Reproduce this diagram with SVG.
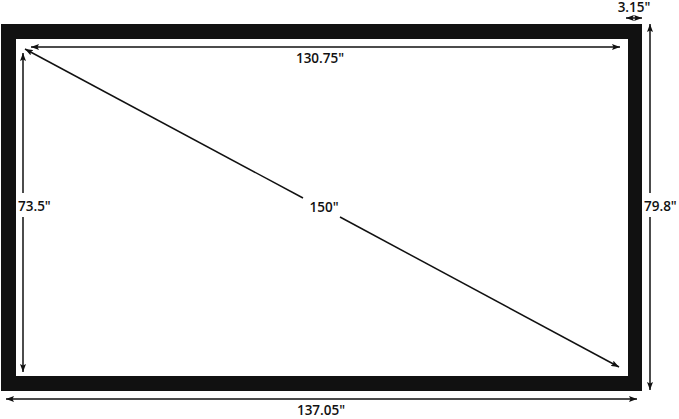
<svg xmlns="http://www.w3.org/2000/svg" width="679" height="419" viewBox="0 0 679 419">
<defs>
<marker id="ah" viewBox="0 0 8 6" refX="8" refY="3" markerWidth="8" markerHeight="6" markerUnits="userSpaceOnUse" orient="auto-start-reverse">
<path d="M0,0 L8,3 L0,6 L1.5,3 z" fill="#111"/>
</marker>
<style>
.dim{stroke:#111;stroke-width:1.5;fill:none}
.t{font-family:"Open Sans","Liberation Sans",sans-serif;font-weight:600;font-size:13.5px;fill:#111}
</style>
</defs>
<rect width="679" height="419" fill="#fff"/>
<g id="frame">
<path d="M1,24 H642 V391 H1 Z M16,39 V376 H628 V39 Z" fill="#111" fill-rule="evenodd"/>
</g>
<g id="connectors">
<line class="dim" x1="31" y1="47" x2="620" y2="47" marker-start="url(#ah)" marker-end="url(#ah)"/>
<line class="dim" x1="23" y1="53" x2="23" y2="193" marker-start="url(#ah)"/>
<line class="dim" x1="23" y1="217" x2="23" y2="372" marker-end="url(#ah)"/>
<line class="dim" x1="650" y1="24" x2="650" y2="193" marker-start="url(#ah)"/>
<line class="dim" x1="650" y1="217" x2="650" y2="390" marker-end="url(#ah)"/>
<line class="dim" x1="6" y1="399" x2="637" y2="399" marker-start="url(#ah)" marker-end="url(#ah)"/>
<line class="dim" x1="626" y1="18" x2="642" y2="18" marker-start="url(#ah)" marker-end="url(#ah)"/>
<line class="dim" x1="25" y1="49" x2="303" y2="198" marker-start="url(#ah)"/>
<line class="dim" x1="340" y1="217" x2="619" y2="367" marker-end="url(#ah)"/>
</g>
<g id="labels">
<text class="t" x="320" y="63" text-anchor="middle">130.75"</text>
<text class="t" x="18" y="211">73.5"</text>
<text class="t" x="644" y="211">79.8"</text>
<text class="t" x="634" y="12" text-anchor="middle">3.15"</text>
<text class="t" x="324" y="212" text-anchor="middle">150"</text>
<text class="t" x="321" y="415" text-anchor="middle">137.05"</text>
</g>
</svg>
